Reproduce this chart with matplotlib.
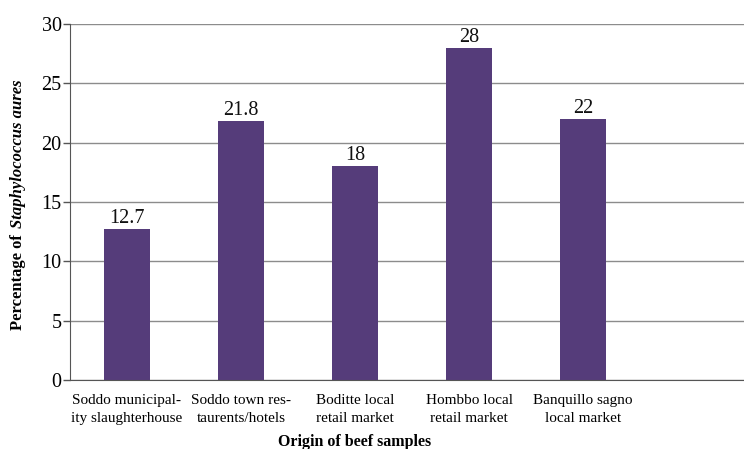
import numpy as np
import matplotlib.pyplot as plt

# values
origins = ["Soddo municipal-\nity slaughterhouse", "Soddo town res-\ntaurents/hotels",
           "Boditte local\nretail market", "Hombbo local\nretail market",
           "Banquillo sagno\nlocal market"]
percent = [12.7, 21.8, 18, 28, 22]
yticks = [0, 5, 10, 15, 20, 25, 30]

plt.rcParams['font.family'] = ['Liberation Serif', 'DejaVu Serif']

fig = plt.figure(figsize=(7.44, 4.49), dpi=100)
W, H = 744, 449
# axes spans 6 category slots, last one is cut by the figure edge
ax = fig.add_axes([70 / W, 1 - 380 / H, 684 / W, (380 - 24) / H])

x = np.arange(len(origins))
bars = ax.bar(x, percent, width=0.41, color="#553c7a", zorder=3)
for xi, v in zip(x, percent):
    ax.text(xi, v + 0.1, f"{v:g}", ha="center", va="bottom", fontsize=14.5, color="#111111")

ax.set_xlim(-0.5, 5.5)
ax.set_ylim(0, 30)
ax.set_yticks(yticks)
ax.tick_params(axis="y", labelsize=14.5, length=5, width=1, color="#555555", pad=1)
ax.set_xticks(x)
ax.set_xticklabels(origins, fontsize=11, linespacing=1.5)
ax.tick_params(axis="x", length=0, pad=10)
ax.yaxis.grid(True, color="#8c8c8c", linewidth=1, zorder=0)
for s in ["top", "right"]:
    ax.spines[s].set_visible(False)
ax.spines["left"].set_color("#555555")
ax.spines["bottom"].set_color("#555555")
ax.spines["bottom"].set_zorder(4)

# x axis title, centred under the five bars
ax.text(2, -0.152, "Origin of beef samples", transform=ax.get_xaxis_transform(),
        ha="center", va="top", fontsize=11.5, fontweight="bold")

# y axis title: regular bold part + bold italic species name
t1 = fig.text(18 / W, 1 - 330 / H, "Percentage of ", rotation=90, ha="center", va="bottom",
              fontsize=12, fontweight="bold")
fig.canvas.draw()
bb = t1.get_window_extent()
fig.text(18 / W, (bb.y1 + 2) / H, "Staphylococcus aures", rotation=90, ha="center", va="bottom",
         fontsize=12, fontweight="bold", fontstyle="italic")

fig.savefig("out.png", dpi=100)
